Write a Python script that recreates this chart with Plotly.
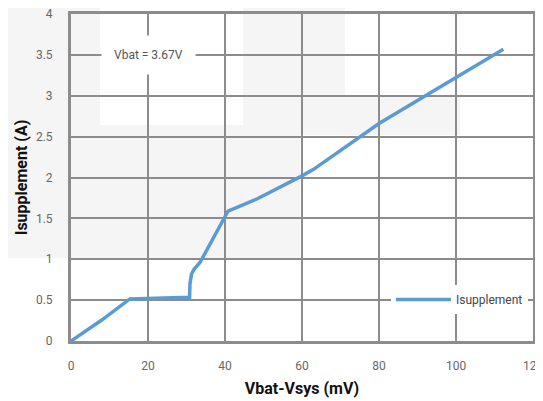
import plotly.graph_objects as go

# ---- data ----
vdiff_mv = [0, 7.8, 15.3, 30.8, 30.9, 31.3, 32.0, 33.5, 40.8, 48.4, 60, 63, 80, 112.3]
isupp_a = [0, 0.25, 0.515, 0.535, 0.70, 0.82, 0.88, 0.96, 1.59, 1.74, 2.02, 2.1, 2.66, 3.57]
series_name = "Isupplement"
x_ticks = [0, 20, 40, 60, 80, 100, 120]
y_ticks = [0, 0.5, 1, 1.5, 2, 2.5, 3, 3.5, 4]
y_tick_text = ["0", "0.5", "1", "1.5", "2", "2.5", "3", "3.5", "4"]
note_text = "Vbat = 3.67V"

# page body has an 8px margin, so the figure is drawn offset by 8px
OFF = 8
W, H = 543 - OFF, 401 - OFF
ML, MR, MT, MB = 71 - OFF, 10, 14 - OFF, 60
PW, PH = W - ML - MR, H - MT - MB

def px(x):
    # window pixel x -> paper fraction
    return (x - OFF - ML) / PW

def py(y):
    # window pixel y -> paper fraction
    return (H - MB - (y - OFF)) / PH

FONT = "Roboto, Liberation Sans, sans-serif"
GRID = "#8c8c8c"
WM = "#f5f5f5"

fig = go.Figure()
fig.add_trace(go.Scatter(
    x=vdiff_mv, y=isupp_a, mode="lines", name=series_name,
    line=dict(color="#5b9bd5", width=3.5), showlegend=True,
))

# faint background watermark blocks
wm_rects = [(0, 0, 100, 258), (0, 125, 300, 258), (243, 0, 345, 125),
            (300, 97, 460, 135), (533, 0, 543, 137)]
for x0, y0, x1, y1 in wm_rects:
    fig.add_shape(type="rect", xref="paper", yref="paper",
                  x0=px(x0), x1=px(x1), y0=py(y1), y1=py(y0),
                  fillcolor=WM, line=dict(width=0), layer="below")

fig.add_annotation(x=20, y=3.5, xref="x", yref="y", text=note_text,
                   showarrow=False, bgcolor="white", borderpad=12,
                   font=dict(family=FONT, size=12, color="#555555"))

axis_common = dict(
    showgrid=True, gridcolor=GRID, gridwidth=1.8,
    showline=True, linecolor=GRID, linewidth=3, mirror=True,
    zeroline=False, ticks="", automargin=False, ticklabeloverflow="allow",
    tickfont=dict(family=FONT, size=12, color="#666666"),
)

fig.update_layout(
    width=W, height=H,
    margin=dict(l=ML, r=MR, t=MT, b=MB),
    paper_bgcolor="white", plot_bgcolor="rgba(0,0,0,0)",
    xaxis=dict(range=[0, 120], tickvals=x_ticks, ticklabelstandoff=12,
               title=dict(text="<b>Vbat-Vsys (mV)</b>", standoff=11,
                          font=dict(family=FONT, size=16, color="#111111")),
               **axis_common),
    yaxis=dict(range=[0, 4], tickvals=y_ticks, ticktext=y_tick_text, ticklabelstandoff=13,
               title=dict(text="<b>Isupplement (A)</b>", standoff=5,
                          font=dict(family=FONT, size=16, color="#111111")),
               **axis_common),
    legend=dict(x=px(391), y=py(285), xanchor="left", yanchor="top",
                bgcolor="white", borderwidth=0, itemwidth=55,
                font=dict(family=FONT, size=12, color="#444444")),
    showlegend=True,
)

fig.write_html("out.html")
